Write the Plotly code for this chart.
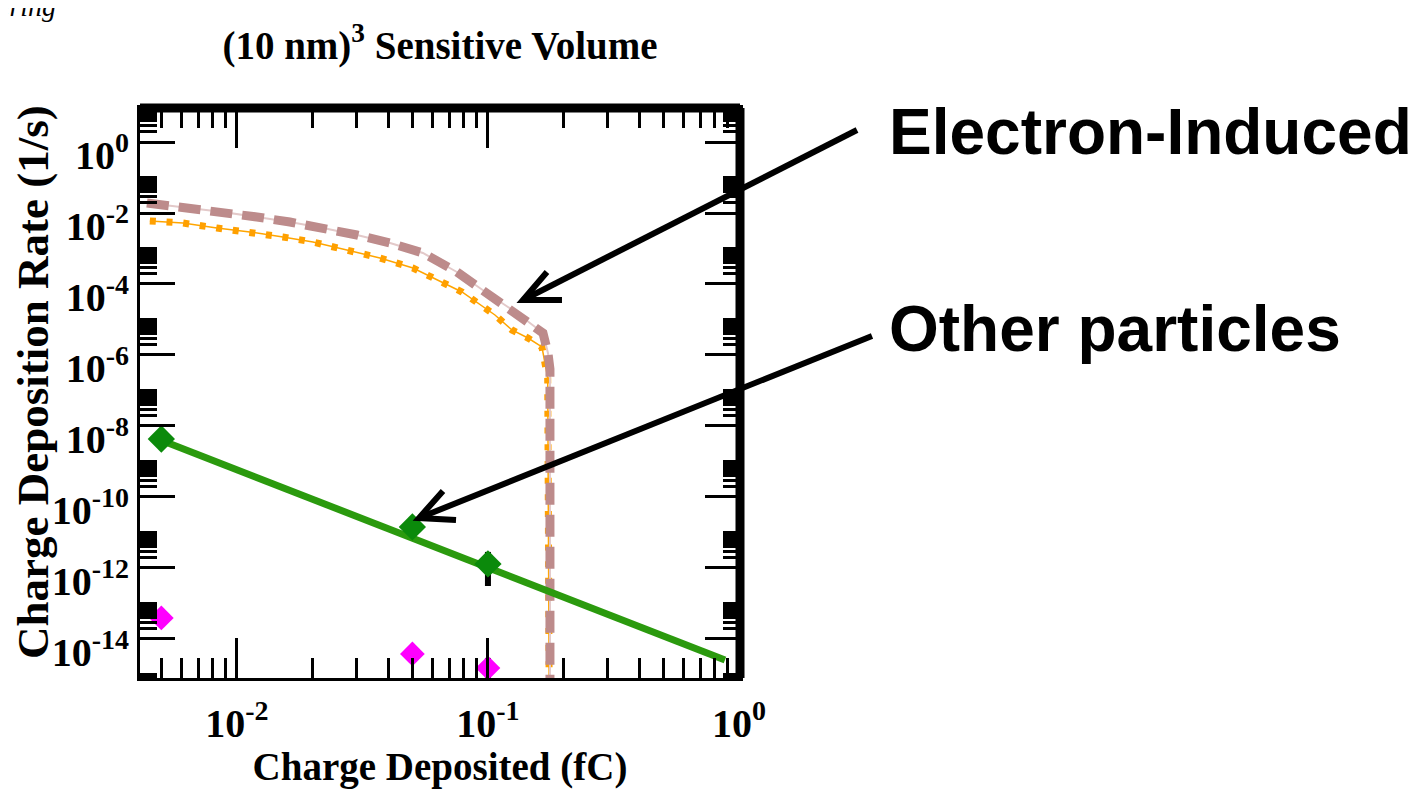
import plotly.graph_objects as go

# ---------------- data ----------------
# Electron-induced, (10 nm)^3 volume: two curves (brown dashed, orange dotted)
brown_x = [0.00438, 0.00650, 0.00879, 0.01202, 0.01626, 0.02203, 0.03006, 0.04074,
           0.05508, 0.07522, 0.0991, 0.1305, 0.1656, 0.1734, 0.1766, 0.1766]
brown_y = [1.91e-2, 1.38e-2, 1.07e-2, 7.71e-3, 5.57e-3, 3.78e-3, 2.40e-3, 1.43e-3,
           7.47e-4, 2.18e-4, 5.57e-5, 1.52e-5, 4.17e-6, 1.14e-6, 4.0e-7, 1e-16]

orange_x = [0.00450, 0.00609, 0.00832, 0.01126, 0.01525, 0.02009, 0.02742, 0.03712,
            0.05027, 0.06867, 0.07880, 0.10663, 0.12464, 0.14430, 0.16410, 0.1730, 0.1755]
orange_y = [5.95e-3, 5.23e-3, 3.78e-3, 2.92e-3, 2.11e-3, 1.52e-3, 9.07e-4, 5.40e-4,
            2.82e-4, 9.37e-5, 5.95e-5, 1.34e-5, 5.06e-6, 3.01e-6, 1.68e-6, 2.25e-7, 1e-16]

# Other particles: green points with fitted line, magenta points
green_x = [0.005, 0.05, 0.1]
green_y = [4.30e-9, 1.43e-11, 1.30e-12]
green_err_plus = [0, 0, 1.53e-12]
green_err_minus = [0, 0, 0.99e-12]

fit_x = [0.004845, 0.8794]
fit_y = [4.30e-9, 2.56e-15]

magenta_x = [0.005, 0.05, 0.1]
magenta_y = [3.91e-14, 3.78e-15, 1.52e-15]
magenta_err_plus = [0, 0, 1.4e-15]
magenta_err_minus = [0, 0, 1.2e-15]

# ---------------- ticks ----------------
x_major = [0.01, 0.1, 1]
x_ticktext = ["10<sup>-2</sup>", "10<sup>-1</sup>", "10<sup>0</sup>"]
x_minor = [m * 10.0 ** e for e in (-3, -2, -1) for m in range(2, 10)]

y_major = [10.0 ** e for e in range(0, -15, -2)]
y_ticktext = ["10<sup>%d</sup>" % e if e == 0 else "10<sup>-%d</sup>" % (-e) for e in range(0, -15, -2)]
y_minor = [m * 10.0 ** e for e in range(-16, 1, 2) for m in range(2, 11)]

SERIF = "Liberation Serif, Times New Roman, serif"
SANS = "Liberation Sans, Arial, sans-serif"

# plot-area geometry (pixels inside the figure)
W, H = 1410, 781
L, T, PW, PH = 132, 100, 600, 570


def px(xp):   # reference-page x pixel -> paper x
    return (xp - 140) / PW


def py(yp):   # reference-page y pixel -> paper y
    return (678 - yp) / PH


fig = go.Figure()

# orange dotted curve (thin line + square dots)
fig.add_trace(go.Scatter(x=orange_x, y=orange_y, mode="lines",
                         line=dict(color="#ffa500", width=1.5), hoverinfo="skip"))
fig.add_trace(go.Scatter(x=orange_x, y=orange_y, mode="lines",
                         line=dict(color="#ffa000", width=7, dash="6px,10.7px")))
# brown dashed curve (faint connecting line + thick dashes)
fig.add_trace(go.Scatter(x=brown_x, y=brown_y, mode="lines",
                         line=dict(color="#e3c9c9", width=2), hoverinfo="skip"))
fig.add_trace(go.Scatter(x=brown_x, y=brown_y, mode="lines",
                         line=dict(color="#bd8b8b", width=9, dash="22px,10px")))
# green fit line
fig.add_trace(go.Scatter(x=fit_x, y=fit_y, mode="lines",
                         line=dict(color="#2b9a0e", width=7)))
# green points
fig.add_trace(go.Scatter(x=green_x, y=green_y, mode="markers",
                         marker=dict(symbol="diamond", size=21, color="#0b8a0b"),
                         error_y=dict(type="data", symmetric=False, array=green_err_plus,
                                      arrayminus=green_err_minus, color="black",
                                      thickness=6, width=0)))
# magenta points
fig.add_trace(go.Scatter(x=magenta_x, y=magenta_y, mode="markers",
                         marker=dict(symbol="diamond", size=19, color="#ff00ff"),
                         error_y=dict(type="data", symmetric=False, array=magenta_err_plus,
                                      arrayminus=magenta_err_minus, color="black",
                                      thickness=6, width=0)))

axis_common = dict(type="log", showgrid=False, zeroline=False, showline=True,
                   linecolor="black", linewidth=3, mirror="allticks", automargin=False,
                   ticks="inside", tickcolor="black", tickwidth=3, tickmode="array")

fig.update_xaxes(**axis_common, range=[-2.386, 0.004], tickvals=x_major, ticktext=x_ticktext,
                 ticklen=40, ticklabelstandoff=8,
                 minor=dict(tickmode="array", tickvals=x_minor, ticks="inside", ticklen=20,
                            tickwidth=3, tickcolor="black"),
                 tickfont=dict(family=SERIF, size=40, color="black", weight="bold"),
                 title=dict(text="Charge Deposited (fC)",
                            font=dict(family=SERIF, size=39, color="black", weight="bold"),
                            standoff=6))
fig.update_yaxes(**axis_common, range=[-15.1, 0.958], tickvals=y_major, ticktext=y_ticktext,
                 ticklen=35, ticklabelshift=13,
                 minor=dict(tickmode="array", tickvals=y_minor, ticks="inside", ticklen=17,
                            tickwidth=3, tickcolor="black"),
                 tickfont=dict(family=SERIF, size=40, color="black", weight="bold"))

# y-axis title
fig.add_annotation(xref="paper", yref="paper", x=px(33), y=py(382), xanchor="center",
                   yanchor="middle", textangle=-90, showarrow=False,
                   text="Charge Deposition Rate (1/s)",
                   font=dict(family=SERIF, size=45, color="black", weight="bold"))

# thick top and right frame
fig.add_shape(type="line", xref="paper", yref="paper", x0=0, x1=1, y0=1, y1=1,
              line=dict(color="black", width=9))
fig.add_shape(type="line", xref="paper", yref="paper", x0=1, x1=1, y0=0, y1=1,
              line=dict(color="black", width=9))

# callout texts
fig.add_annotation(xref="paper", yref="paper", x=px(887), y=0.958, xanchor="left",
                   yanchor="middle", text="Electron-Induced", showarrow=False,
                   font=dict(family=SANS, size=64, color="black", weight="bold"))
fig.add_annotation(xref="paper", yref="paper", x=px(887), y=0.612, xanchor="left",
                   yanchor="middle", text="Other particles", showarrow=False,
                   font=dict(family=SANS, size=64, color="black", weight="bold"))

# callout arrows (shaft + open V head)
arrows = [
    ((857, 130), (523, 300), (547, 272), (562, 300)),
    ((872, 336), (419, 518), (443, 491), (456, 520)),
]
for tail, tip, a1, a2 in arrows:
    fig.add_shape(type="path", xref="paper", yref="paper",
                  path="M %.4f,%.4f L %.4f,%.4f" % (px(tail[0]), py(tail[1]), px(tip[0]), py(tip[1])),
                  line=dict(color="black", width=6))
    fig.add_shape(type="path", xref="paper", yref="paper",
                  path="M %.4f,%.4f L %.4f,%.4f L %.4f,%.4f" % (px(a1[0]), py(a1[1]),
                                                              px(tip[0]), py(tip[1]),
                                                              px(a2[0]), py(a2[1])),
                  line=dict(color="black", width=6))

# cut-off header text at top-left
fig.add_annotation(xref="paper", yref="paper", x=px(-5), y=py(7), xanchor="left",
                   yanchor="middle", text="ering", showarrow=False,
                   font=dict(family=SERIF, size=28, color="black", style="italic"))

fig.update_layout(
    width=W, height=H,
    margin=dict(l=L, r=W - L - PW, t=T, b=H - T - PH, pad=0, autoexpand=False),
    paper_bgcolor="white", plot_bgcolor="white",
    showlegend=False,
    title=dict(text="(10 nm)<sup>3</sup> Sensitive Volume", x=0.5, xref="paper",
               xanchor="center", y=1 - 37 / H, yref="container", yanchor="middle",
               automargin=False,
               font=dict(family=SERIF, size=39, color="black", weight="bold")),
)

fig.write_html("out.html")
